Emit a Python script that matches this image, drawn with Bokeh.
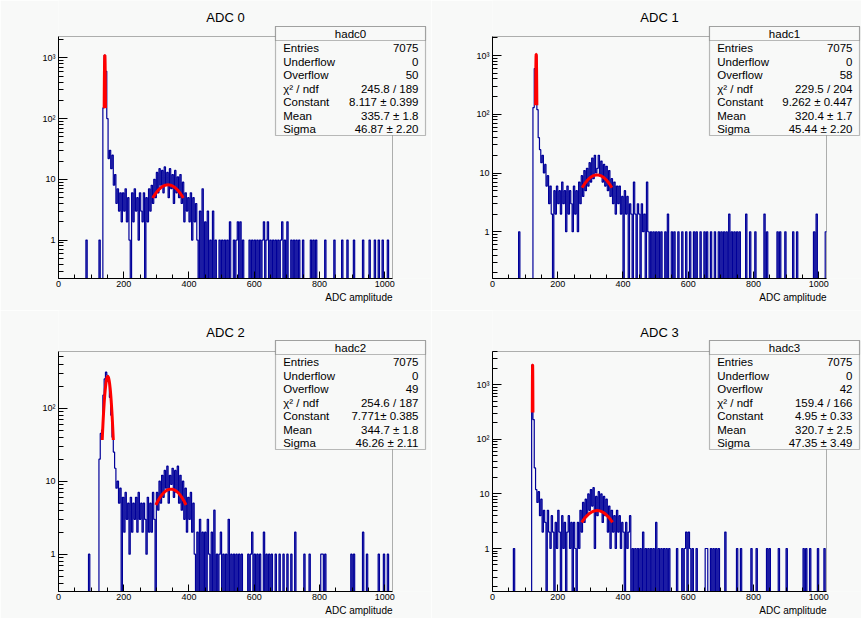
import math
import numpy as np
from bokeh.plotting import figure
from bokeh.layouts import gridplot
from bokeh.models import Label, BoxAnnotation, FixedTicker, CustomJSTickFormatter, Range1d, Title
from bokeh.embed import file_html
from bokeh.resources import INLINE

BIN_WIDTH = 4
X_MAX = 1024

# bin contents, 4 ADC counts per bin, 16 bins per row (64 ADC counts per row)
adc0_counts = [
    0, 0, 0, 0, 0, 0, 0, 0, 0, 0, 0, 0, 0, 0, 0, 0,
    0, 0, 0, 0, 0, 1, 0, 0, 0, 0, 0, 0, 0, 0, 0, 1,
    0, 0, 150, 1100, 600, 100, 22, 30, 15, 25, 8, 12, 4, 7, 3, 6,
    2, 6, 3, 7, 2, 5, 1, 0, 6, 2, 7, 3, 5, 1, 6, 3,
    2, 6, 0, 5, 2, 7, 3, 8, 4, 10, 5, 13, 6, 15, 8, 14,
    6, 16, 8, 13, 5, 15, 7, 12, 4, 14, 6, 11, 5, 12, 4, 9,
    2, 6, 3, 5, 2, 6, 1, 5, 2, 4, 1, 0, 3, 0, 7, 0,
    2, 0, 3, 0, 1, 0, 3, 0, 1, 0, 0, 1, 0, 1, 0, 1,
    0, 1, 0, 2, 0, 0, 1, 0, 1, 2, 0, 2, 0, 1, 0, 0,
    0, 0, 1, 0, 1, 0, 1, 0, 1, 0, 1, 0, 1, 2, 0, 1,
    2, 0, 1, 0, 1, 0, 1, 0, 1, 0, 1, 2, 0, 1, 0, 2,
    0, 0, 1, 0, 1, 0, 1, 0, 1, 0, 0, 1, 0, 0, 0, 0,
    0, 1, 0, 1, 0, 1, 0, 0, 0, 0, 0, 0, 1, 0, 0, 0,
    0, 0, 0, 1, 0, 0, 0, 0, 0, 1, 0, 0, 0, 1, 0, 0,
    0, 0, 1, 0, 0, 0, 0, 0, 0, 1, 0, 0, 0, 0, 1, 0,
    0, 0, 1, 0, 0, 1, 0, 0, 1, 0, 0, 0, 1, 0, 0, 0,
]
adc1_counts = [
    0, 0, 0, 0, 0, 0, 0, 0, 0, 0, 0, 0, 0, 0, 0, 0,
    0, 0, 0, 0, 1, 0, 0, 0, 0, 0, 0, 0, 0, 0, 0, 130,
    600, 1000, 120, 40, 25, 15, 20, 10, 14, 6, 9, 3, 6, 2, 0, 5,
    2, 6, 3, 5, 2, 7, 3, 5, 1, 6, 2, 5, 3, 1, 6, 2,
    5, 1, 7, 3, 9, 4, 11, 5, 12, 6, 15, 7, 18, 8, 20, 10,
    12, 20, 9, 16, 7, 14, 6, 13, 5, 11, 4, 8, 3, 7, 2, 6,
    3, 6, 2, 4, 0, 5, 2, 4, 0, 3, 2, 0, 7, 2, 0, 3,
    2, 0, 3, 1, 2, 0, 7, 1, 0, 1, 0, 1, 0, 1, 0, 1,
    0, 1, 0, 0, 1, 0, 2, 0, 0, 1, 0, 1, 0, 0, 1, 0,
    0, 1, 0, 0, 1, 0, 0, 1, 0, 0, 1, 0, 1, 0, 0, 1,
    0, 0, 1, 0, 1, 0, 0, 1, 0, 0, 1, 0, 0, 1, 0, 1,
    0, 1, 0, 1, 0, 2, 0, 1, 0, 1, 0, 1, 0, 1, 0, 0,
    0, 0, 2, 0, 0, 1, 0, 0, 0, 1, 0, 0, 0, 0, 0, 0,
    2, 0, 1, 0, 0, 0, 0, 0, 0, 0, 1, 0, 1, 0, 0, 0,
    1, 0, 0, 0, 0, 0, 1, 0, 0, 1, 0, 0, 0, 0, 0, 0,
    0, 0, 0, 0, 0, 0, 1, 0, 2, 0, 0, 0, 0, 0, 0, 1,
]
adc2_counts = [
    0, 0, 0, 0, 0, 0, 0, 0, 0, 0, 0, 0, 0, 0, 0, 0,
    0, 0, 0, 0, 0, 0, 0, 1, 0, 0, 0, 0, 0, 0, 0, 20,
    45, 50, 150, 250, 310, 280, 230, 140, 80, 40, 25, 15, 8, 10, 5, 8,
    0, 6, 2, 7, 3, 5, 1, 6, 2, 5, 3, 6, 2, 7, 3, 5,
    2, 5, 3, 1, 6, 2, 5, 2, 7, 3, 0, 7, 4, 10, 5, 12,
    6, 14, 8, 16, 5, 12, 9, 15, 6, 14, 7, 16, 5, 12, 4, 10,
    3, 8, 2, 6, 3, 7, 2, 5, 1, 0, 2, 0, 3, 0, 2, 0,
    2, 0, 3, 1, 0, 2, 0, 4, 0, 1, 0, 1, 2, 0, 1, 0,
    1, 0, 3, 0, 1, 0, 1, 0, 1, 0, 1, 0, 1, 0, 0, 0,
    0, 1, 0, 1, 2, 0, 1, 0, 1, 0, 1, 0, 0, 2, 0, 1,
    0, 1, 0, 1, 0, 0, 1, 0, 0, 1, 0, 0, 1, 0, 0, 1,
    0, 0, 1, 0, 0, 2, 0, 0, 0, 0, 0, 0, 1, 0, 0, 0,
    1, 0, 0, 0, 0, 0, 0, 0, 0, 1, 1, 0, 1, 0, 0, 0,
    0, 0, 0, 0, 0, 0, 0, 0, 0, 0, 0, 0, 0, 0, 0, 0,
    1, 0, 1, 0, 0, 0, 0, 0, 0, 2, 0, 0, 1, 0, 0, 0,
    0, 0, 0, 0, 0, 1, 0, 0, 0, 1, 0, 0, 1, 0, 0, 0,
]
adc3_counts = [
    0, 0, 0, 0, 0, 0, 0, 0, 0, 0, 0, 0, 0, 0, 0, 0,
    1, 0, 0, 0, 0, 0, 0, 0, 0, 0, 0, 0, 0, 0, 2300, 230,
    30, 12, 7, 11, 4, 8, 2, 5, 3, 0, 5, 2, 1, 4, 2, 0,
    3, 1, 5, 2, 0, 4, 1, 3, 0, 2, 4, 1, 3, 0, 3, 1,
    0, 3, 1, 5, 2, 7, 3, 8, 4, 10, 5, 12, 6, 13, 1, 9,
    4, 11, 5, 10, 3, 9, 4, 8, 2, 6, 1, 5, 2, 4, 1, 5,
    2, 4, 1, 3, 2, 0, 3, 1, 2, 4, 0, 1, 0, 1, 0, 1,
    0, 1, 0, 2, 0, 1, 0, 1, 0, 1, 0, 1, 0, 3, 0, 1,
    0, 1, 0, 1, 0, 1, 0, 1, 0, 0, 0, 0, 0, 1, 0, 0,
    0, 1, 0, 1, 2, 0, 2, 1, 0, 1, 0, 0, 1, 0, 0, 0,
    0, 0, 0, 1, 1, 0, 0, 1, 0, 1, 0, 1, 0, 1, 0, 0,
    0, 0, 2, 0, 0, 0, 0, 0, 0, 0, 0, 1, 0, 0, 1, 0,
    0, 0, 0, 0, 0, 0, 1, 0, 0, 0, 1, 0, 0, 0, 0, 0,
    0, 0, 1, 0, 1, 0, 0, 0, 0, 0, 0, 1, 0, 0, 0, 0,
    0, 1, 0, 0, 0, 0, 0, 0, 0, 0, 0, 0, 0, 0, 1, 0,
    1, 0, 0, 1, 0, 0, 0, 0, 0, 1, 0, 0, 0, 0, 1, 0,
]
counts = [adc0_counts, adc1_counts, adc2_counts, adc3_counts]

titles = ["ADC 0", "ADC 1", "ADC 2", "ADC 3"]
hist_names = ["hadc0", "hadc1", "hadc2", "hadc3"]
x_title = "ADC amplitude"
stat_labels = ["Entries", "Underflow", "Overflow", "\u03c7\u00b2 / ndf", "Constant", "Mean", "Sigma"]
entries = [7075, 7075, 7075, 7075]
underflow = [0, 0, 0, 0]
overflow = [50, 58, 49, 42]
chi2 = [245.8, 229.5, 254.6, 159.4]
ndf = [189, 204, 187, 166]
fit_const = [8.117, 9.262, 7.771, 4.95]
fit_const_err = [0.399, 0.447, 0.385, 0.33]
const_digits = [3, 3, 3, 2]
const_sep = [" \u00b1 ", " \u00b1 ", "\u00b1 ", " \u00b1 "]
fit_mean = [335.7, 320.4, 344.7, 320.7]
fit_mean_err = [1.8, 1.7, 1.8, 2.5]
fit_sigma = [46.87, 45.44, 46.26, 47.35]
fit_sigma_err = [2.20, 2.20, 2.11, 3.49]
# narrow pedestal peak fit
peak_const = [1100, 1050, 270, 2300]
peak_mean = [142.0, 134.0, 151.0, 123.0]
peak_sigma = [1.0, 1.0, 8.5, 0.5]
y_ranges = [(0.233, 2250), (0.160, 2110), (0.309, 594), (0.163, 4070)]
x_ticks = [0, 200, 400, 600, 800, 1000]
x_minor = list(range(0, 1025, 50))
y_ticks = [1, 10, 100, 1000]
y_minor = [m * d for d in (0.1, 1, 10, 100, 1000) for m in range(2, 10)]

FONT = "Liberation Sans"
BG = "#f8f9f8"
HIST_COLOR = "#000099"

# geometry in figure pixels: size, data-frame edges, stats box top-left
geoms = [
    dict(w=431, h=310, dl=58, dr=392, dt=36, db=278, bx=275, by=26),
    dict(w=430, h=310, dl=61, dr=395, dt=36, db=278, bx=278, by=26),
    dict(w=431, h=308, dl=58, dr=392, dt=41, db=281, bx=275, by=30),
    dict(w=430, h=308, dl=61, dr=395, dt=41, db=281, bx=278, by=30),
]
BOX_W, BOX_H, HEAD_H = 150, 109, 14

fmt_js = """
const e = Math.round(Math.log10(tick));
if (e <= 0) return "1";
if (e == 1) return "10";
const sup = ["", "", "\\u00b2", "\\u00b3", "\\u2074"];
return "10" + sup[e];
"""


def make_panel(i):
    g = geoms[i]
    w, h, dl, dr, dt, db = g["w"], g["h"], g["dl"], g["dr"], g["dt"], g["db"]
    ymin, ymax = y_ranges[i]
    # the bokeh frame spans from the data frame's left/bottom edges to the canvas top/right,
    # so that the stats box and title can sit inside it
    x_end = X_MAX * (w - dl) / (dr - dl)
    lmin, lmax = math.log10(ymin), math.log10(ymax)
    y_end = 10 ** (lmax + dt / (db - dt) * (lmax - lmin))
    p = figure(width=w, height=h, x_range=Range1d(0, x_end), y_range=Range1d(ymin, y_end),
               y_axis_type="log", output_backend="svg", toolbar_location=None,
               title=None, min_border_left=dl, min_border_right=0,
               min_border_top=0, min_border_bottom=h - db)
    p.background_fill_color = BG
    p.border_fill_color = BG
    p.outline_line_color = None
    p.xgrid.visible = False
    p.ygrid.visible = False

    p.xaxis.ticker = FixedTicker(ticks=x_ticks, minor_ticks=x_minor)
    p.yaxis.ticker = FixedTicker(ticks=[t for t in y_ticks if ymin <= t <= ymax],
                                 minor_ticks=[t for t in y_minor if ymin <= t <= ymax])
    p.yaxis.formatter = CustomJSTickFormatter(code=fmt_js)
    p.xaxis.bounds = (0, X_MAX)
    p.yaxis.bounds = (ymin, ymax)
    for ax in (p.xaxis, p.yaxis):
        ax.axis_line_color = "black"
        ax.major_tick_line_color = "black"
        ax.minor_tick_line_color = "black"
        ax.major_tick_out = 0
        ax.minor_tick_out = 0
        ax.major_label_text_font = FONT
        ax.major_label_text_font_size = "9px"
        ax.major_label_text_color = "black"
    p.xaxis.major_tick_in = 7
    p.xaxis.minor_tick_in = 4
    p.xaxis.major_label_standoff = 2
    p.yaxis.major_tick_in = 9
    p.yaxis.minor_tick_in = 5
    p.yaxis.major_label_standoff = 3

    # data frame outline (top and right edges of the ROOT frame)
    p.add_layout(BoxAnnotation(left=0, right=X_MAX, bottom=ymin, top=ymax,
                               fill_alpha=0, line_color="black", line_width=1, level="underlay"))

    # histogram outline
    c = counts[i]
    xs, ys = [], []
    for k, v in enumerate(c):
        vv = v if v > 0 else 1e-3
        xs += [k * BIN_WIDTH, (k + 1) * BIN_WIDTH]
        ys += [vv, vv]
    p.line(xs, ys, line_color=HIST_COLOR, line_width=1.2)

    # fits
    xp = np.linspace(peak_mean[i] - 2 * peak_sigma[i], peak_mean[i] + 2 * peak_sigma[i], 80)
    yp = peak_const[i] * np.exp(-0.5 * ((xp - peak_mean[i]) / peak_sigma[i]) ** 2)
    p.line(xp, yp, line_color="red", line_width=3)
    xf = np.linspace(fit_mean[i] - fit_sigma[i], fit_mean[i] + fit_sigma[i], 120)
    yf = fit_const[i] * np.exp(-0.5 * ((xf - fit_mean[i]) / fit_sigma[i]) ** 2)
    p.line(xf, yf, line_color="red", line_width=3)

    def sx(x):
        return x - dl

    def sy(y):
        return db - y

    def text(x, y, t, size, align, baseline="middle"):
        p.add_layout(Label(x=sx(x), y=sy(y), x_units="screen", y_units="screen", text=t,
                           text_font=FONT, text_font_size=size, text_align=align,
                           text_baseline=baseline, text_color="black"))

    # panel title
    text((dl + dr) / 2, dt - 19.5, titles[i], "13px", "center")
    # x-axis title, right aligned under the data frame
    p.add_layout(Title(text=x_title, align="right", offset=w - dr, text_font=FONT,
                       text_font_size="10px", text_font_style="normal", standoff=0,
                       text_color="black"), "below")

    # stats box
    bx, by = g["bx"], g["by"]
    for hh in (BOX_H, HEAD_H):
        p.add_layout(BoxAnnotation(left=sx(bx), right=sx(bx + BOX_W), top=sy(by), bottom=sy(by + hh),
                                   left_units="screen", right_units="screen", top_units="screen",
                                   bottom_units="screen", fill_color=BG, fill_alpha=1,
                                   line_color="#222222", line_width=1.2))
    text(bx + BOX_W / 2, by + 7.3, hist_names[i], "11.5px", "center")
    d = const_digits[i]
    values = [
        str(entries[i]), str(underflow[i]), str(overflow[i]),
        f"{chi2[i]:.1f} / {ndf[i]}",
        f"{fit_const[i]:.{d}f}{const_sep[i]}{fit_const_err[i]:.{d}f}",
        f"{fit_mean[i]:.1f} \u00b1 {fit_mean_err[i]:.1f}",
        f"{fit_sigma[i]:.2f} \u00b1 {fit_sigma_err[i]:.2f}",
    ]
    for k, (lab, val) in enumerate(zip(stat_labels, values)):
        yy = by + 21.7 + 13.5 * k
        text(bx + 7.7, yy, lab, "11.5px", "left")
        text(bx + BOX_W - 7, yy, val, "11.5px", "right")
    return p


panels = [make_panel(i) for i in range(4)]
grid = gridplot([[panels[0], panels[1]], [panels[2], panels[3]]], toolbar_location=None)

with open("out.html", "w", encoding="utf-8") as f:
    f.write(file_html(grid, INLINE))
